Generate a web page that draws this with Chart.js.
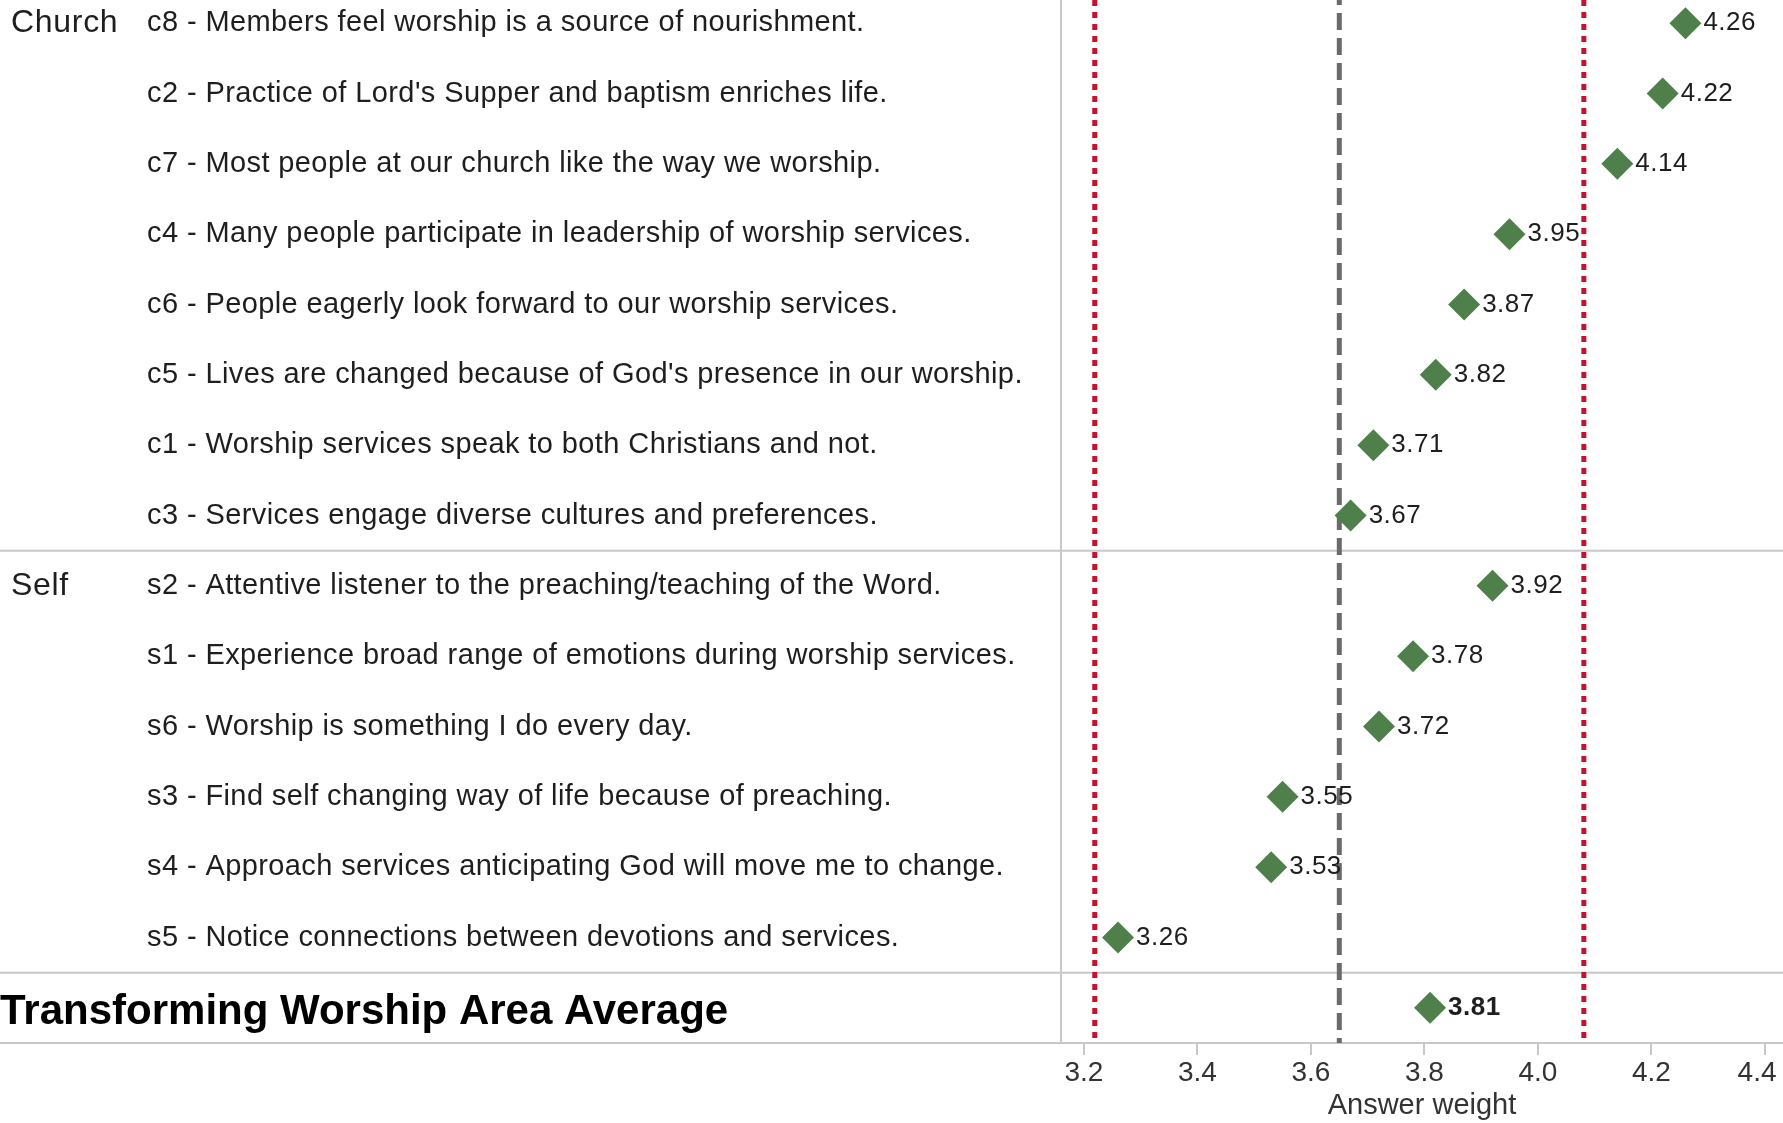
<!DOCTYPE html>
<html><head><meta charset="utf-8">
<script src="https://cdn.jsdelivr.net/npm/chart.js@4/dist/chart.umd.min.js"></script>
<style>
html,body{margin:0;padding:0;background:#fff;overflow:hidden;width:1783px;height:1123px}
#wrap{position:absolute;left:0;top:-12px;width:1783px;height:1135px}
</style>
</head><body>
<div id="wrap"><canvas id="c"></canvas></div>
<script>
// ---- data ----
const categories = [
  "c8 - Members feel worship is a source of nourishment.",
  "c2 - Practice of Lord's Supper and baptism enriches life.",
  "c7 - Most people at our church like the way we worship.",
  "c4 - Many people participate in leadership of worship services.",
  "c6 - People eagerly look forward to our worship services.",
  "c5 - Lives are changed because of God's presence in our worship.",
  "c1 - Worship services speak to both Christians and not.",
  "c3 - Services engage diverse cultures and preferences.",
  "s2 - Attentive listener to the preaching/teaching of the Word.",
  "s1 - Experience broad range of emotions during worship services.",
  "s6 - Worship is something I do every day.",
  "s3 - Find self changing way of life because of preaching.",
  "s4 - Approach services anticipating God will move me to change.",
  "s5 - Notice connections between devotions and services.",
  "Transforming Worship Area Average"
];
const values = [4.26, 4.22, 4.14, 3.95, 3.87, 3.82, 3.71, 3.67, 3.92, 3.78, 3.72, 3.55, 3.53, 3.26, 3.81];
const groupNames = ["Church", "Self"];
const groupStartIndex = [0, 8];
const averageIndex = 14;
const meanLine = [3.65];
const bandLines = [3.219, 4.081];
const xMin = 3.1595, xMax = 4.432, xStep = 0.2;
const xTitle = "Answer weight";

// ---- styles ----
const GREEN = "#4f7f4a";
const SEP = "#c8c8c8";
const TXT = "#1e1e1e";
const FAM = "'Liberation Sans', Arial, sans-serif";

const overlay = {
  id: "overlay",
  beforeDatasetsDraw(chart) {
    const {ctx, chartArea, scales: {x, y}} = chart;
    const W = chart.width;
    ctx.save();
    // separators
    ctx.strokeStyle = SEP; ctx.lineWidth = 2;
    const seps = [];
    for (let g = 1; g < groupStartIndex.length; g++) {
      const i = groupStartIndex[g];
      seps.push((y.getPixelForValue(i - 1) + y.getPixelForValue(i)) / 2);
    }
    seps.push((y.getPixelForValue(averageIndex - 1) + y.getPixelForValue(averageIndex)) / 2);
    seps.push(chartArea.bottom);
    seps.forEach(py => { ctx.beginPath(); ctx.moveTo(0, py); ctx.lineTo(W, py); ctx.stroke(); });
    ctx.beginPath(); ctx.moveTo(chartArea.left, 0); ctx.lineTo(chartArea.left, chartArea.bottom); ctx.stroke();
    // reference lines
    ctx.lineWidth = 5; ctx.strokeStyle = "#c4122f"; ctx.setLineDash([6, 6]);
    bandLines.forEach(v => { const px = x.getPixelForValue(v); ctx.beginPath(); ctx.moveTo(px, chartArea.top); ctx.lineTo(px, chartArea.bottom); ctx.stroke(); });
    ctx.strokeStyle = "#6a6a6a"; ctx.setLineDash([17, 8]);
    meanLine.forEach(v => { const px = x.getPixelForValue(v); ctx.beginPath(); ctx.moveTo(px, chartArea.top); ctx.lineTo(px, chartArea.bottom); ctx.stroke(); });
    ctx.setLineDash([]);
    // row labels
    ctx.fillStyle = TXT; ctx.textBaseline = "middle"; ctx.textAlign = "left";
    categories.forEach((c, i) => {
      const py = y.getPixelForValue(i);
      if (i === averageIndex) {
        ctx.font = "bold 42px " + FAM;
        ctx.letterSpacing = "0px";
        ctx.fillStyle = "#000";
        ctx.fillText(c, 0, py + 5);
        ctx.fillStyle = TXT;
      } else {
        ctx.font = "29px " + FAM;
        ctx.letterSpacing = "0.4px";
        ctx.fillText(c, 147, py);
      }
    });
    ctx.font = "32px " + FAM;
    ctx.letterSpacing = "0.7px";
    groupNames.forEach((g, k) => ctx.fillText(g, 11, y.getPixelForValue(groupStartIndex[k])));
    ctx.restore();
  },
  afterDatasetsDraw(chart) {
    const {ctx} = chart;
    const meta = chart.getDatasetMeta(0);
    ctx.save();
    ctx.textBaseline = "middle"; ctx.textAlign = "left"; ctx.fillStyle = TXT;
    meta.data.forEach((pt, i) => {
      ctx.font = (i === averageIndex ? "bold " : "") + "26px " + FAM;
      ctx.letterSpacing = "0.5px";
      ctx.fillText(values[i].toFixed(2), pt.x + 18, pt.y);
    });
    ctx.restore();
  }
};

new Chart(document.getElementById("c"), {
  type: "scatter",
  data: {
    datasets: [{
      data: values.map((v, i) => ({x: v, y: categories[i]})),
      pointStyle: "rectRot",
      pointRadius: 16,
      pointHoverRadius: 16,
      backgroundColor: GREEN,
      borderColor: GREEN,
      borderWidth: 0,
      clip: false
    }]
  },
  options: {
    responsive: true,
    maintainAspectRatio: false,
    animation: false,
    events: [],
    layout: {autoPadding: false, padding: {left: 1061, right: 0, top: 0, bottom: 0}},
    plugins: {legend: {display: false}, tooltip: {enabled: false}},
    scales: {
      y: {type: "category", labels: categories, offset: true, display: false},
      x: {
        type: "linear", position: "bottom", min: xMin, max: xMax,
        afterFit(s) { s.height = 80; s.paddingLeft = 0; s.paddingRight = 0; },
        border: {display: false},
        grid: {drawOnChartArea: false, tickLength: 12, color: SEP, lineWidth: 2},
        ticks: {stepSize: xStep, includeBounds: false, padding: 1, color: "#333",
                font: {family: FAM, size: 28},
                callback: (v, i, t) => Number(v).toFixed(1) + (i === t.length - 1 ? "  " : "")},
        title: {display: true, text: xTitle, color: "#333", padding: {top: 0, bottom: 0},
                font: {family: FAM, size: 29}}
      }
    }
  },
  plugins: [overlay]
});
</script>
</body></html>
